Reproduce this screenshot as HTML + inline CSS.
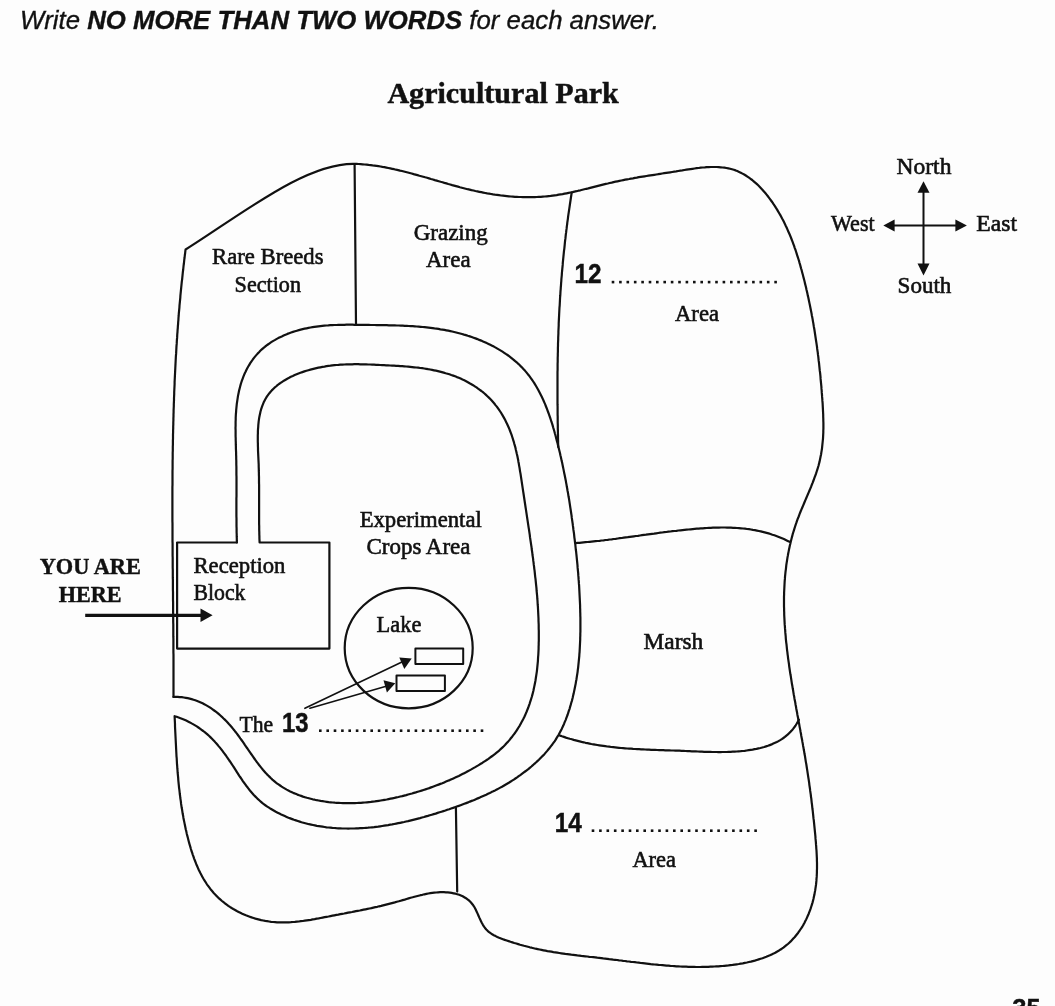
<!DOCTYPE html>
<html><head><meta charset="utf-8"><style>
html,body{margin:0;padding:0;background:#fdfdfd;}
body{width:1055px;height:1006px;overflow:hidden;position:relative;}
svg{position:absolute;left:0;top:0;will-change:transform;}
.s{font-family:"Liberation Serif",serif;fill:#111;stroke:#111;stroke-width:0.6px;}
.sb{font-family:"Liberation Serif",serif;font-weight:bold;fill:#111;stroke:#111;stroke-width:0.45px;}
.nb{font-family:"Liberation Sans",sans-serif;font-weight:bold;fill:#111;stroke:#111;stroke-width:0.5px;}
</style></head><body>
<svg width="1055" height="1006" viewBox="0 0 1055 1006">
<g fill="none" stroke="#111" stroke-width="2.2" stroke-linejoin="round" stroke-linecap="round">
<path d="M173.5,696.9L173.5,694.9L173.5,692.9L173.5,690.9L173.5,688.8L173.5,686.8L173.5,684.8L173.5,682.8L173.5,680.8L173.5,678.8L173.5,676.7L173.5,674.7L173.5,672.7L173.5,670.7L173.5,668.7L173.5,666.7L173.5,664.6L173.5,662.6L173.5,660.6L173.5,658.6L173.5,656.6L173.5,654.6L173.4,652.5L173.4,650.5L173.4,648.5L173.4,646.5L173.4,644.5L173.4,642.5L173.4,640.4L173.4,638.4L173.3,636.4L173.3,634.4L173.3,632.4L173.3,630.4L173.3,628.3L173.3,626.3L173.3,624.3L173.2,622.3L173.2,620.3L173.2,618.2L173.2,616.2L173.2,614.2L173.1,612.2L173.1,610.2L173.1,608.2L173.1,606.1L173.1,604.1L173.1,602.1L173.0,600.1L173.0,598.1L173.0,596.0L173.0,594.0L173.0,592.0L172.9,590.0L172.9,588.0L172.9,585.9L172.9,583.9L172.9,581.9L172.9,579.9L172.8,577.9L172.8,575.9L172.8,573.8L172.8,571.8L172.8,569.8L172.7,567.8L172.7,565.8L172.7,563.7L172.7,561.7L172.7,559.7L172.7,557.7L172.6,555.7L172.6,553.6L172.6,551.6L172.6,549.6L172.6,547.6L172.6,545.6L172.6,543.5L172.5,541.5L172.5,539.5L172.5,537.5L172.5,535.5L172.5,533.5L172.5,531.4L172.5,529.4L172.5,527.4L172.5,525.4L172.5,523.4L172.4,521.3L172.4,519.3L172.4,517.3L172.4,515.3L172.4,513.3L172.4,511.2L172.4,509.2L172.4,507.2L172.4,505.2L172.4,503.2L172.4,501.1L172.4,499.1L172.4,497.1L172.4,495.1L172.4,493.1L172.4,491.1L172.4,489.0L172.4,487.0L172.5,485.0L172.5,483.0L172.5,481.0L172.5,478.9L172.5,476.9L172.5,474.9L172.5,472.9L172.5,470.9L172.6,468.9L172.6,466.8L172.6,464.8L172.6,462.8L172.6,460.8L172.7,458.8L172.7,456.7L172.7,454.7L172.7,452.7L172.8,450.7L172.8,448.7L172.8,446.7L172.9,444.6L172.9,442.6L172.9,440.6L173.0,438.6L173.0,436.6L173.0,434.6L173.1,432.5L173.1,430.5L173.2,428.5L173.2,426.5L173.3,424.5L173.3,422.5L173.4,420.4L173.4,418.4L173.5,416.4L173.5,414.4L173.6,412.4L173.6,410.4L173.7,408.3L173.8,406.3L173.8,404.3L173.9,402.3L174.0,400.3L174.0,398.3L174.1,396.2L174.2,394.2L174.2,392.2L174.3,390.2L174.4,388.2L174.5,386.2L174.6,384.2L174.6,382.1L174.7,380.1L174.8,378.1L174.9,376.1L175.0,374.1L175.1,372.1L175.2,370.1L175.3,368.0L175.4,366.0L175.5,364.0L175.6,362.0L175.7,360.0L175.8,358.0L175.9,356.0L176.1,353.9L176.2,351.9L176.3,349.9L176.4,347.9L176.5,345.9L176.7,343.9L176.8,341.9L176.9,339.9L177.1,337.9L177.2,335.8L177.3,333.8L177.5,331.8L177.6,329.8L177.8,327.8L177.9,325.8L178.1,323.8L178.2,321.8L178.4,319.8L178.5,317.7L178.7,315.7L178.8,313.7L179.0,311.7L179.2,309.7L179.4,307.7L179.5,305.7L179.7,303.7L179.9,301.7L180.1,299.7L180.3,297.6L180.4,295.6L180.6,293.6L180.8,291.6L181.0,289.6L181.2,287.6L181.4,285.6L181.6,283.6L181.8,281.6L182.1,279.6L182.3,277.6L182.5,275.6L182.7,273.6L182.9,271.6L183.2,269.5L183.4,267.5L183.6,265.5L183.9,263.5L184.1,261.5L184.3,259.5L184.6,257.5L184.8,255.5L185.1,253.5L185.3,251.5L185.6,249.5C242.9,213.4 305.8,162.7 354.6,163.8L356.6,163.9L358.6,164.0L360.6,164.1L362.6,164.3L364.6,164.5L366.6,164.6L368.6,164.9L370.6,165.1L372.6,165.4L374.6,165.6L376.5,165.9L378.5,166.2L380.5,166.5L382.4,166.9L384.4,167.2L386.4,167.6L388.3,168.0L390.3,168.4L392.2,168.8L394.2,169.2L396.1,169.7L398.1,170.1L400.0,170.6L402.0,171.0L403.9,171.5L405.8,172.0L407.8,172.5L409.7,173.0L411.7,173.5L413.6,174.1L415.5,174.6L417.5,175.1L419.4,175.7L421.3,176.2L423.2,176.7L425.2,177.3L427.1,177.8L429.0,178.4L431.0,179.0L432.9,179.5L434.8,180.1L436.7,180.6L438.7,181.2L440.6,181.8L442.5,182.3L444.4,182.9L446.4,183.4L448.3,184.0L450.2,184.5L452.2,185.1L454.1,185.6L456.0,186.1L458.0,186.6L459.9,187.2L461.8,187.7L463.8,188.2L465.7,188.7L467.6,189.2L469.6,189.6L471.5,190.1L473.5,190.5L475.4,191.0L477.4,191.4L479.3,191.8L481.3,192.2L483.2,192.6L485.2,193.0L487.2,193.4L489.1,193.7L491.1,194.0L493.1,194.4L495.0,194.7L497.0,194.9L499.0,195.2L501.0,195.5L503.0,195.7L504.9,195.9L506.9,196.1L508.9,196.3L510.9,196.5L512.9,196.6L514.9,196.8L516.9,196.9L518.9,197.0L520.8,197.0L522.8,197.1L524.8,197.1L526.8,197.2L528.8,197.2L530.8,197.2L532.8,197.1L534.8,197.1L536.8,197.0L538.8,196.9L540.8,196.8L542.8,196.6L544.8,196.5L546.8,196.3L548.7,196.1L550.7,195.9L552.7,195.6L554.7,195.3L556.7,195.1L558.7,194.7L560.7,194.4L562.6,194.1L564.6,193.7L566.6,193.3L568.6,192.9L570.5,192.5L572.5,192.1L574.5,191.6L576.5,191.2L578.4,190.7L580.4,190.3L582.4,189.8L584.3,189.3L586.3,188.8L588.3,188.4L590.2,187.9L592.2,187.4L594.1,186.9L596.1,186.4L598.0,185.9L600.0,185.4L601.9,184.9L603.9,184.4L605.8,183.9L607.8,183.5L609.7,183.0L611.7,182.6L613.6,182.1L615.5,181.7L617.5,181.3L619.4,180.9L621.4,180.5L623.3,180.1L625.2,179.7L627.2,179.3L629.1,179.0L631.0,178.6L633.0,178.3L634.9,177.9L636.8,177.6L638.8,177.2L640.7,176.9L642.6,176.6L644.6,176.3L646.5,176.0L648.5,175.7L650.4,175.4L652.4,175.1L654.3,174.8L656.3,174.5L658.3,174.2L660.3,173.8L662.2,173.5L664.2,173.2L666.2,172.9L668.2,172.6L670.2,172.3L672.2,172.0L674.2,171.7L676.2,171.4L678.2,171.0L680.3,170.7L682.3,170.4L684.4,170.0L686.4,169.7L688.5,169.4L690.5,169.1L692.6,168.8L694.6,168.5L696.6,168.2L698.7,168.0L700.7,167.7L702.8,167.5L704.8,167.4L706.8,167.2L708.8,167.1L710.8,167.0L712.8,167.0L714.8,167.0L716.8,167.0L718.7,167.1L720.7,167.3L722.6,167.5L724.5,167.7L726.4,168.0L728.3,168.4L730.1,168.8L732.0,169.3L733.8,169.8L735.6,170.4L737.3,171.1L739.1,171.9L740.8,172.7L742.5,173.6L744.2,174.5L745.8,175.5L747.4,176.6L749.0,177.7L750.6,178.8L752.2,180.0L753.7,181.3L755.2,182.6L756.7,183.9L758.2,185.3L759.6,186.7L761.0,188.2L762.4,189.7L763.7,191.2L765.1,192.8L766.4,194.4L767.7,196.0L768.9,197.6L770.2,199.3L771.4,201.0L772.6,202.7L773.7,204.4L774.9,206.1L776.0,207.9L777.1,209.6L778.1,211.4L779.2,213.2L780.2,214.9L781.2,216.7L782.1,218.5L783.1,220.3L784.0,222.1L784.9,223.9L785.7,225.7L786.6,227.5L787.4,229.4L788.2,231.2L789.0,233.0L789.8,234.8L790.6,236.7L791.3,238.5L792.0,240.4L792.7,242.2L793.4,244.1L794.1,245.9L794.7,247.8L795.4,249.6L796.0,251.5L796.6,253.4L797.2,255.3L797.8,257.2L798.4,259.0L799.0,260.9L799.5,262.8L800.1,264.7L800.6,266.6L801.1,268.5L801.7,270.4L802.2,272.4L802.7,274.3L803.2,276.2L803.7,278.1L804.2,280.0L804.7,282.0L805.1,283.9L805.6,285.8L806.1,287.8L806.5,289.7L807.0,291.7L807.4,293.6L807.8,295.6L808.3,297.5L808.7,299.5L809.1,301.4L809.5,303.4L809.9,305.3L810.3,307.3L810.7,309.3L811.1,311.2L811.5,313.2L811.8,315.2L812.2,317.1L812.6,319.1L812.9,321.1L813.3,323.1L813.6,325.1L813.9,327.0L814.3,329.0L814.6,331.0L814.9,333.0L815.2,335.0L815.5,337.0L815.8,339.0L816.1,341.0L816.4,342.9L816.7,344.9L817.0,346.9L817.2,348.9L817.5,350.9L817.8,352.9L818.0,354.9L818.3,356.9L818.5,358.9L818.7,360.9L819.0,362.9L819.2,364.9L819.4,366.9L819.6,368.9L819.8,370.9L820.1,372.9L820.3,374.9L820.5,376.9L820.6,378.9L820.8,380.9L821.0,382.9L821.2,384.9L821.4,386.9L821.5,388.9L821.7,390.9L821.8,392.9L822.0,394.9L822.1,396.9L822.3,398.9L822.4,400.9L822.6,402.9L822.7,404.9L822.8,406.9L822.9,408.9L823.0,410.9L823.1,412.9L823.2,414.8L823.2,416.8L823.3,418.8L823.3,420.8L823.4,422.8L823.4,424.8L823.4,426.7L823.4,428.7L823.3,430.7L823.3,432.7L823.2,434.6L823.1,436.6L823.0,438.6L822.8,440.5L822.6,442.5L822.4,444.4L822.2,446.4L822.0,448.3L821.7,450.3L821.4,452.2L821.1,454.2L820.7,456.1L820.3,458.0L819.9,460.0L819.5,461.9L819.0,463.8L818.5,465.7L817.9,467.7L817.3,469.6L816.7,471.5L816.1,473.4L815.4,475.3L814.7,477.2L814.0,479.1L813.3,481.0L812.6,482.9L811.8,484.8L811.1,486.7L810.3,488.6L809.5,490.5L808.7,492.4L807.9,494.2L807.1,496.1L806.3,498.0L805.5,499.9L804.7,501.8L803.9,503.7L803.1,505.6L802.3,507.5L801.5,509.4L800.7,511.3L799.9,513.2L799.2,515.1L798.5,517.0L797.7,518.9L797.0,520.8L796.4,522.7L795.7,524.6L795.1,526.5L794.5,528.4L793.9,530.3L793.3,532.3L792.7,534.2L792.2,536.1L791.7,538.0L791.2,540.0L790.7,541.9L790.3,543.8L789.8,545.7L789.4,547.7L789.0,549.6L788.6,551.6L788.2,553.5L787.9,555.4L787.5,557.4L787.2,559.3L786.9,561.3L786.6,563.2L786.3,565.2L786.1,567.1L785.9,569.1L785.6,571.1L785.4,573.0L785.2,575.0L785.0,576.9L784.9,578.9L784.7,580.9L784.6,582.8L784.5,584.8L784.4,586.8L784.3,588.7L784.2,590.7L784.1,592.7L784.1,594.7L784.0,596.6L784.0,598.6L784.0,600.6L784.0,602.6L784.0,604.6L784.0,606.5L784.1,608.5L784.1,610.5L784.2,612.5L784.2,614.5L784.3,616.5L784.4,618.4L784.5,620.4L784.6,622.4L784.7,624.4L784.9,626.4L785.0,628.4L785.2,630.4L785.3,632.4L785.5,634.4L785.7,636.4L785.8,638.3L786.0,640.3L786.2,642.3L786.5,644.3L786.7,646.3L786.9,648.3L787.1,650.3L787.4,652.3L787.6,654.3L787.9,656.3L788.1,658.3L788.4,660.3L788.7,662.3L789.0,664.3L789.2,666.3L789.5,668.3L789.8,670.3L790.1,672.3L790.4,674.3L790.8,676.3L791.1,678.3L791.4,680.3L791.7,682.3L792.0,684.3L792.4,686.3L792.7,688.3L793.1,690.3L793.4,692.3L793.7,694.2L794.1,696.2L794.4,698.2L794.8,700.2L795.2,702.2L795.5,704.2L795.9,706.2L796.2,708.2L796.6,710.2L797.0,712.2L797.3,714.2L797.7,716.2L798.1,718.1L798.4,720.1L798.8,722.1L799.2,724.1L799.5,726.1L799.9,728.1L800.3,730.1L800.6,732.0L801.0,734.0L801.3,736.0L801.7,738.0L802.1,739.9L802.4,741.9L802.8,743.9L803.1,745.9L803.5,747.8L803.8,749.8L804.2,751.8L804.5,753.8L804.9,755.7L805.2,757.7L805.5,759.7L805.8,761.6L806.2,763.6L806.5,765.5L806.8,767.5L807.1,769.4L807.4,771.4L807.7,773.4L808.0,775.3L808.3,777.3L808.6,779.2L808.9,781.2L809.2,783.1L809.4,785.1L809.7,787.0L810.0,789.0L810.2,790.9L810.5,792.9L810.8,794.8L811.0,796.8L811.3,798.7L811.5,800.7L811.7,802.6L812.0,804.6L812.2,806.6L812.4,808.5L812.7,810.5L812.9,812.5L813.1,814.4L813.3,816.4L813.5,818.4L813.8,820.4L814.0,822.4L814.2,824.3L814.4,826.3L814.6,828.3L814.8,830.3L815.0,832.3L815.2,834.3L815.4,836.3L815.5,838.4L815.7,840.4L815.9,842.4L816.0,844.4L816.2,846.4L816.3,848.5L816.5,850.5L816.6,852.5L816.7,854.6L816.8,856.6L816.9,858.6L816.9,860.7L817.0,862.7L817.0,864.7L817.0,866.7L817.0,868.8L816.9,870.8L816.9,872.8L816.8,874.8L816.7,876.9L816.5,878.9L816.4,880.9L816.2,882.9L816.0,884.9L815.7,886.9L815.4,888.9L815.1,890.9L814.7,892.9L814.4,894.8L813.9,896.8L813.5,898.8L813.0,900.7L812.5,902.6L811.9,904.6L811.3,906.5L810.7,908.4L810.0,910.3L809.3,912.1L808.6,914.0L807.8,915.8L807.0,917.6L806.2,919.4L805.3,921.1L804.4,922.9L803.5,924.6L802.5,926.3L801.5,927.9L800.4,929.5L799.3,931.1L798.2,932.7L797.0,934.2L795.8,935.7L794.6,937.2L793.3,938.6L792.0,940.0L790.7,941.4L789.3,942.7L787.9,944.0L786.4,945.2L784.9,946.4L783.4,947.6L781.8,948.7L780.2,949.7L778.6,950.8L776.9,951.7L775.2,952.7L773.5,953.6L771.7,954.4L769.9,955.3L768.1,956.0L766.3,956.8L764.4,957.5L762.5,958.2L760.6,958.8L758.7,959.4L756.8,960.0L754.8,960.6L752.8,961.1L750.9,961.6L748.9,962.0L746.9,962.5L744.8,962.9L742.8,963.3L740.8,963.6L738.7,964.0L736.7,964.3L734.7,964.6L732.6,964.9L730.6,965.1L728.5,965.4L726.5,965.6L724.4,965.8L722.4,966.0L720.4,966.1L718.4,966.3L716.3,966.4L714.3,966.5L712.3,966.6L710.3,966.7L708.3,966.8L706.3,966.9L704.2,966.9L702.2,966.9L700.2,967.0L698.2,967.0L696.2,967.0L694.2,966.9L692.2,966.9L690.3,966.9L688.3,966.8L686.3,966.7L684.3,966.7L682.3,966.6L680.3,966.5L678.3,966.4L676.3,966.3L674.4,966.1L672.4,966.0L670.4,965.9L668.4,965.7L666.5,965.6L664.5,965.4L662.5,965.2L660.5,965.0L658.6,964.9L656.6,964.7L654.6,964.5L652.6,964.3L650.7,964.1L648.7,963.8L646.7,963.6L644.8,963.4L642.8,963.2L640.8,963.0L638.8,962.7L636.9,962.5L634.9,962.2L632.9,962.0L631.0,961.8L629.0,961.5L627.0,961.3L625.0,961.0L623.1,960.8L621.1,960.5L619.1,960.3L617.1,960.0L615.1,959.8L613.2,959.6L611.2,959.3L609.2,959.1L607.2,958.8L605.2,958.6L603.2,958.4L601.2,958.1L599.2,957.9L597.2,957.7L595.3,957.4L593.3,957.2L591.3,957.0L589.3,956.8L587.3,956.5L585.3,956.3L583.3,956.1L581.3,955.9L579.3,955.6L577.3,955.4L575.3,955.1L573.3,954.9L571.3,954.7L569.3,954.4L567.3,954.1L565.3,953.9L563.3,953.6L561.3,953.3L559.3,953.0L557.3,952.7L555.3,952.4L553.4,952.1L551.4,951.7L549.4,951.4L547.4,951.1L545.5,950.7L543.5,950.3L541.5,949.9L539.6,949.5L537.6,949.1L535.6,948.7L533.7,948.2L531.7,947.7L529.8,947.3L527.9,946.8L525.9,946.3L524.0,945.8L522.0,945.2L520.1,944.7L518.2,944.1L516.3,943.5L514.3,943.0L512.4,942.4L510.5,941.8L508.6,941.1L506.7,940.5L504.8,939.9L502.9,939.2L501.0,938.5L499.1,937.8L497.3,937.0L495.6,936.1L493.8,935.2L492.2,934.3L490.6,933.2L489.1,932.1L487.6,930.8L486.3,929.5L485.0,928.0L483.9,926.4L482.9,924.8L481.9,923.0L481.0,921.2L480.1,919.3L479.2,917.4L478.4,915.5L477.6,913.6L476.7,911.7L475.8,909.8L474.9,908.0L473.9,906.3L472.8,904.7L471.6,903.2L470.3,901.7L468.9,900.4L467.5,899.3L466.0,898.2L464.3,897.2L462.7,896.3L460.9,895.5L459.2,894.8L457.3,894.2L455.5,893.7L453.6,893.3L451.7,892.9L449.8,892.6L447.8,892.4L445.9,892.3L444.0,892.2L442.0,892.2L440.1,892.2L438.1,892.3L436.2,892.5L434.2,892.7L432.3,892.9L430.3,893.2L428.3,893.5L426.4,893.9L424.4,894.3L422.4,894.8L420.5,895.2L418.5,895.7L416.5,896.2L414.5,896.7L412.6,897.3L410.6,897.8L408.6,898.4L406.6,899.0L404.7,899.6L402.7,900.1L400.7,900.7L398.8,901.3L396.8,901.8L394.8,902.4L392.9,902.9L390.9,903.4L389.0,903.9L387.0,904.4L385.1,904.9L383.1,905.4L381.2,905.9L379.2,906.3L377.3,906.8L375.3,907.2L373.4,907.6L371.4,908.1L369.5,908.5L367.5,908.9L365.6,909.3L363.6,909.7L361.7,910.1L359.8,910.5L357.8,910.8L355.9,911.2L353.9,911.6L352.0,912.0L350.0,912.3L348.1,912.7L346.1,913.1L344.2,913.5L342.2,913.8L340.3,914.2L338.3,914.6L336.4,914.9L334.4,915.3L332.5,915.7L330.5,916.1L328.5,916.5L326.6,916.8L324.6,917.2L322.6,917.6L320.6,918.0L318.7,918.4L316.7,918.7L314.7,919.1L312.7,919.4L310.8,919.8L308.8,920.1L306.8,920.4L304.8,920.7L302.8,921.0L300.8,921.2L298.9,921.5L296.9,921.7L294.9,921.9L292.9,922.0L290.9,922.2L288.9,922.3L287.0,922.4L285.0,922.4L283.0,922.4L281.0,922.4L279.0,922.4L277.0,922.3L275.1,922.1L273.1,922.0L271.1,921.8L269.1,921.5L267.1,921.2L265.2,920.9L263.2,920.5L261.2,920.1L259.3,919.6L257.3,919.1L255.4,918.6L253.5,918.0L251.6,917.4L249.7,916.7L247.8,916.0L245.9,915.3L244.0,914.5L242.2,913.7L240.4,912.8L238.6,911.9L236.8,911.0L235.1,910.0L233.3,909.0L231.6,908.0L229.9,906.9L228.3,905.8L226.7,904.6L225.1,903.5L223.5,902.2L222.0,901.0L220.5,899.7L219.0,898.4L217.6,897.0L216.2,895.6L214.9,894.2L213.5,892.8L212.3,891.3L211.0,889.8L209.8,888.2L208.7,886.7L207.5,885.1L206.4,883.5L205.4,881.8L204.3,880.2L203.3,878.5L202.3,876.7L201.4,875.0L200.5,873.3L199.6,871.5L198.7,869.7L197.9,867.9L197.1,866.0L196.3,864.2L195.6,862.3L194.9,860.5L194.1,858.6L193.5,856.7L192.8,854.8L192.2,852.9L191.5,851.0L190.9,849.0L190.4,847.1L189.8,845.1L189.2,843.2L188.7,841.2L188.2,839.3L187.7,837.3L187.2,835.4L186.7,833.4L186.3,831.4L185.8,829.5L185.4,827.5L185.0,825.6L184.6,823.6L184.2,821.6L183.8,819.7L183.4,817.7L183.1,815.7L182.7,813.8L182.4,811.8L182.1,809.8L181.7,807.8L181.4,805.9L181.1,803.9L180.9,801.9L180.6,799.9L180.3,798.0L180.1,796.0L179.8,794.0L179.6,792.0L179.4,790.1L179.1,788.1L178.9,786.1L178.7,784.1L178.5,782.1L178.3,780.1L178.2,778.2L178.0,776.2L177.8,774.2L177.6,772.2L177.5,770.2L177.3,768.2L177.2,766.2L177.0,764.2L176.9,762.2L176.8,760.2L176.7,758.2L176.5,756.3L176.4,754.3L176.3,752.3L176.2,750.3L176.1,748.3L176.0,746.3L175.9,744.3L175.8,742.3L175.7,740.3L175.6,738.3L175.5,736.3L175.4,734.3L175.3,732.3L175.2,730.2L175.1,728.2L175.0,726.2L175.0,724.2L174.9,722.2L174.8,720.2L174.7,718.2L174.6,716.2L176.6,716.8L178.6,717.5L180.5,718.2L182.5,719.0L184.4,719.8L186.2,720.6L188.0,721.5L189.9,722.4L191.6,723.4L193.4,724.4L195.1,725.4L196.8,726.4L198.4,727.5L200.0,728.6L201.6,729.8L203.2,731.0L204.7,732.2L206.2,733.4L207.7,734.7L209.2,736.0L210.6,737.4L212.0,738.8L213.4,740.2L214.7,741.6L216.0,743.1L217.3,744.5L218.6,746.1L219.9,747.6L221.1,749.1L222.3,750.7L223.5,752.3L224.7,753.9L225.9,755.5L227.0,757.2L228.2,758.8L229.3,760.5L230.5,762.2L231.6,763.8L232.7,765.5L233.8,767.2L234.9,768.9L236.0,770.6L237.1,772.4L238.2,774.1L239.3,775.8L240.5,777.5L241.6,779.1L242.7,780.8L243.9,782.5L245.1,784.1L246.2,785.7L247.5,787.3L248.7,788.9L249.9,790.5L251.2,792.0L252.5,793.5L253.8,795.0L255.2,796.4L256.6,797.8L258.0,799.2L259.5,800.5L261.0,801.8L262.5,803.1L264.1,804.3L265.7,805.5L267.3,806.6L269.0,807.7L270.7,808.8L272.4,809.8L274.1,810.8L275.8,811.8L277.6,812.7L279.4,813.6L281.2,814.5L283.0,815.3L284.8,816.1L286.6,816.9L288.5,817.7L290.3,818.4L292.2,819.1L294.0,819.8L295.9,820.4L297.8,821.0L299.7,821.6L301.5,822.2L303.4,822.7L305.3,823.2L307.2,823.7L309.1,824.2L311.1,824.6L313.0,825.0L314.9,825.4L316.8,825.8L318.8,826.1L320.7,826.4L322.6,826.7L324.6,827.0L326.5,827.3L328.5,827.5L330.4,827.7L332.4,827.9L334.4,828.0L336.3,828.2L338.3,828.3L340.3,828.4L342.3,828.5L344.2,828.5L346.2,828.5L348.2,828.6L350.2,828.5L352.2,828.5L354.2,828.5L356.2,828.4L358.1,828.3L360.1,828.2L362.1,828.1L364.1,828.0L366.1,827.8L368.1,827.7L370.1,827.5L372.1,827.3L374.1,827.1L376.1,826.8L378.2,826.6L380.2,826.3L382.2,826.0L384.2,825.7L386.2,825.4L388.2,825.1L390.2,824.7L392.2,824.4L394.2,824.0L396.2,823.6L398.2,823.2L400.2,822.8L402.2,822.4L404.1,822.0L406.1,821.5L408.1,821.1L410.1,820.6L412.1,820.1L414.1,819.6L416.1,819.1L418.0,818.6L420.0,818.1L422.0,817.5L424.0,817.0L425.9,816.4L427.9,815.9L429.8,815.3L431.8,814.7L433.7,814.1L435.7,813.6L437.6,812.9L439.6,812.3L441.5,811.7L443.4,811.1L445.4,810.5L447.3,809.8L449.2,809.2L451.1,808.5L453.0,807.9L454.9,807.2L456.8,806.5L458.7,805.9L460.6,805.2L462.4,804.5L464.3,803.8L466.2,803.1L468.0,802.4L469.9,801.6L471.7,800.9L473.6,800.2L475.4,799.4L477.2,798.6L479.0,797.9L480.8,797.1L482.6,796.3L484.4,795.5L486.2,794.7L488.0,793.8L489.8,793.0L491.5,792.1L493.3,791.3L495.1,790.4L496.8,789.5L498.5,788.6L500.3,787.6L502.0,786.7L503.7,785.7L505.4,784.7L507.1,783.7L508.8,782.7L510.4,781.7L512.1,780.6L513.8,779.6L515.4,778.5L517.1,777.4L518.7,776.2L520.3,775.1L521.9,773.9L523.5,772.7L525.1,771.5L526.7,770.3L528.3,769.1L529.8,767.8L531.4,766.5L532.9,765.2L534.4,763.8L535.9,762.5L537.4,761.1L538.9,759.7L540.3,758.3L541.8,756.8L543.2,755.4L544.6,753.9L545.9,752.4L547.2,750.9L548.5,749.3L549.8,747.7L551.0,746.1L552.3,744.5L553.4,742.9L554.6,741.3L555.7,739.6L556.7,737.9L557.8,736.2L558.8,734.5L559.7,732.7L560.7,730.9L561.6,729.2L562.4,727.4L563.3,725.6L564.1,723.7L564.8,721.9L565.6,720.1L566.3,718.2L567.0,716.3L567.7,714.5L568.3,712.6L568.9,710.7L569.6,708.8L570.1,706.9L570.7,704.9L571.2,703.0L571.8,701.1L572.3,699.2L572.8,697.2L573.2,695.3L573.7,693.4L574.1,691.4L574.5,689.5L574.9,687.5L575.3,685.6L575.7,683.6L576.0,681.6L576.4,679.7L576.7,677.7L577.0,675.7L577.3,673.8L577.6,671.8L577.8,669.8L578.1,667.8L578.3,665.8L578.5,663.8L578.7,661.8L578.9,659.8L579.1,657.8L579.3,655.8L579.4,653.8L579.6,651.8L579.7,649.8L579.8,647.8L579.9,645.8L580.0,643.8L580.1,641.8L580.2,639.8L580.2,637.8L580.3,635.8L580.3,633.8L580.4,631.7L580.4,629.7L580.4,627.7L580.4,625.7L580.4,623.7L580.4,621.7L580.4,619.7L580.4,617.6L580.3,615.6L580.3,613.6L580.2,611.6L580.2,609.6L580.1,607.6L580.1,605.6L580.0,603.5L579.9,601.5L579.8,599.5L579.7,597.5L579.6,595.5L579.5,593.5L579.4,591.5L579.3,589.5L579.2,587.5L579.1,585.4L578.9,583.4L578.8,581.4L578.6,579.4L578.5,577.4L578.3,575.4L578.2,573.4L578.0,571.4L577.8,569.4L577.6,567.4L577.5,565.4L577.3,563.4L577.1,561.4L576.9,559.4L576.7,557.4L576.5,555.4L576.3,553.5L576.1,551.5L575.8,549.5L575.6,547.5L575.4,545.5L575.2,543.5L574.9,541.5L574.7,539.6L574.4,537.6L574.2,535.6L574.0,533.6L573.7,531.7L573.4,529.7L573.2,527.7L572.9,525.7L572.7,523.8L572.4,521.8L572.1,519.8L571.8,517.9L571.6,515.9L571.3,514.0L571.0,512.0L570.7,510.0L570.4,508.1L570.1,506.1L569.8,504.2L569.5,502.2L569.2,500.2L568.9,498.3L568.5,496.3L568.2,494.4L567.9,492.4L567.5,490.5L567.2,488.5L566.8,486.6L566.5,484.6L566.1,482.6L565.8,480.7L565.4,478.7L565.0,476.8L564.6,474.8L564.2,472.9L563.8,470.9L563.4,468.9L563.0,467.0L562.6,465.0L562.2,463.1L561.7,461.1L561.3,459.1L560.9,457.2L560.4,455.2L560.0,453.2L559.5,451.3L559.0,449.3L558.5,447.3L558.0,445.3L557.6,443.4L557.0,441.4L556.5,439.4L556.0,437.4L555.5,435.4L554.9,433.5L554.4,431.5L553.8,429.5L553.2,427.5L552.7,425.6L552.1,423.6L551.4,421.7L550.8,419.7L550.2,417.8L549.5,415.8L548.8,413.9L548.1,412.0L547.4,410.1L546.7,408.2L545.9,406.3L545.2,404.4L544.4,402.6L543.6,400.7L542.8,398.9L541.9,397.1L541.0,395.3L540.1,393.5L539.2,391.7L538.3,390.0L537.3,388.2L536.3,386.5L535.3,384.8L534.3,383.2L533.2,381.5L532.1,379.9L531.0,378.3L529.8,376.7L528.7,375.2L527.4,373.6L526.2,372.1L524.9,370.6L523.6,369.2L522.3,367.8L520.9,366.4L519.6,365.0L518.1,363.7L516.7,362.3L515.2,361.1L513.7,359.8L512.2,358.6L510.6,357.3L509.1,356.2L507.5,355.0L505.8,353.9L504.2,352.8L502.5,351.7L500.8,350.6L499.1,349.6L497.4,348.6L495.7,347.6L493.9,346.6L492.1,345.7L490.3,344.8L488.5,343.9L486.7,343.1L484.9,342.2L483.0,341.4L481.2,340.6L479.3,339.9L477.4,339.1L475.5,338.4L473.6,337.7L471.7,337.0L469.8,336.4L467.8,335.8L465.9,335.1L464.0,334.6L462.0,334.0L460.1,333.5L458.1,333.0L456.2,332.5L454.2,332.0L452.2,331.5L450.3,331.1L448.3,330.7L446.3,330.3L444.4,329.9L442.4,329.6L440.4,329.3L438.5,328.9L436.5,328.6L434.5,328.4L432.6,328.1L430.6,327.8L428.6,327.6L426.6,327.4L424.6,327.2L422.7,327.0L420.7,326.8L418.7,326.6L416.7,326.5L414.7,326.3L412.7,326.2L410.7,326.1L408.8,326.0L406.8,325.9L404.8,325.8L402.8,325.7L400.8,325.6L398.8,325.5L396.8,325.5L394.8,325.4L392.8,325.4L390.8,325.3L388.8,325.3L386.8,325.2L384.8,325.2L382.7,325.2L380.7,325.1L378.7,325.1L376.7,325.1L374.7,325.0L372.7,325.0L370.7,325.0L368.7,324.9L366.6,324.9L364.6,324.9L362.6,324.9L360.6,324.8L358.6,324.8L356.5,324.8L354.5,324.8L352.5,324.7L350.5,324.7L348.5,324.7L346.4,324.7L344.4,324.8L342.4,324.8L340.4,324.8L338.4,324.9L336.4,325.0L334.3,325.0L332.3,325.1L330.3,325.2L328.3,325.4L326.3,325.5L324.3,325.7L322.3,325.9L320.4,326.1L318.4,326.3L316.4,326.6L314.4,326.9L312.5,327.2L310.5,327.5L308.5,327.9L306.6,328.3L304.6,328.7L302.7,329.1L300.7,329.6L298.8,330.1L296.9,330.7L295.0,331.3L293.0,331.9L291.1,332.5L289.2,333.2L287.4,333.9L285.5,334.7L283.6,335.5L281.8,336.4L280.0,337.2L278.2,338.1L276.4,339.1L274.7,340.1L272.9,341.1L271.2,342.2L269.6,343.3L267.9,344.5L266.3,345.6L264.8,346.9L263.3,348.1L261.8,349.4L260.3,350.8L259.0,352.2L257.6,353.6L256.3,355.1L255.0,356.6L253.8,358.1L252.7,359.7L251.5,361.3L250.4,362.9L249.4,364.6L248.4,366.3L247.4,368.0L246.5,369.7L245.7,371.5L244.8,373.3L244.0,375.1L243.3,376.9L242.6,378.8L241.9,380.6L241.3,382.5L240.7,384.4L240.2,386.3L239.7,388.2L239.2,390.1L238.8,392.0L238.4,393.9L238.0,395.9L237.7,397.9L237.4,399.8L237.1,401.8L236.8,403.8L236.6,405.8L236.4,407.8L236.2,409.8L236.1,411.8L235.9,413.8L235.8,415.8L235.7,417.8L235.7,419.9L235.6,421.9L235.6,423.9L235.6,426.0L235.5,428.0L235.6,430.1L235.6,432.1L235.6,434.2L235.6,436.2L235.7,438.3L235.7,440.3L235.8,442.4L235.8,444.4L235.9,446.5L235.9,448.5L236.0,450.5L236.1,452.6L236.1,454.6L236.2,456.6L236.2,458.6L236.3,460.7L236.3,462.7L236.3,464.7L236.4,466.7L236.4,468.7L236.4,470.7L236.4,472.7L236.4,474.7L236.5,476.7L236.5,478.6L236.5,480.6L236.5,482.6L236.5,484.6L236.5,486.6L236.5,488.5L236.5,490.5L236.5,492.5L236.5,494.4L236.5,496.4L236.4,498.4L236.4,500.4L236.4,502.3L236.4,504.3L236.4,506.3L236.4,508.3L236.4,510.3L236.4,512.2L236.4,514.2L236.4,516.2L236.5,518.2L236.5,520.2L236.5,522.2L236.5,524.2L236.5,526.2L236.6,528.2L236.6,530.3L236.6,532.3L236.7,534.3L236.7,536.4L236.8,538.4L236.8,540.4L236.9,542.5"/>
<path d="M236.9,542.5L177.1,542.5L177.1,648.6L329.4,648.6L329.4,542.5L259.6,542.5L259.5,540.4L259.4,538.3L259.4,536.2L259.3,534.1L259.3,532.1L259.2,530.0L259.2,528.0L259.2,526.0L259.1,524.0L259.1,522.0L259.1,520.0L259.1,518.0L259.1,516.0L259.1,514.1L259.1,512.1L259.1,510.2L259.1,508.2L259.1,506.3L259.1,504.3L259.1,502.4L259.1,500.4L259.1,498.5L259.1,496.5L259.1,494.6L259.1,492.7L259.1,490.7L259.1,488.8L259.1,486.8L259.1,484.8L259.0,482.9L259.0,480.9L259.0,478.9L259.0,476.9L258.9,474.9L258.9,472.9L258.8,470.9L258.8,468.9L258.7,466.8L258.7,464.8L258.6,462.7L258.5,460.7L258.4,458.6L258.3,456.5L258.2,454.4L258.1,452.3L258.0,450.2L258.0,448.0L257.9,445.9L257.9,443.8L257.8,441.7L257.8,439.6L257.8,437.5L257.8,435.4L257.9,433.3L257.9,431.3L258.0,429.2L258.2,427.2L258.3,425.1L258.5,423.1L258.7,421.1L259.0,419.2L259.3,417.2L259.7,415.3L260.1,413.4L260.5,411.5L261.0,409.7L261.6,407.9L262.2,406.1L262.9,404.3L263.6,402.6L264.4,401.0L265.3,399.3L266.2,397.7L267.2,396.2L268.3,394.7L269.4,393.2L270.6,391.8L271.8,390.4L273.2,389.0L274.5,387.7L276.0,386.5L277.5,385.2L279.0,384.0L280.6,382.9L282.2,381.8L283.9,380.7L285.6,379.7L287.3,378.7L289.1,377.8L290.9,376.8L292.8,376.0L294.7,375.1L296.6,374.3L298.5,373.5L300.4,372.8L302.4,372.1L304.4,371.4L306.4,370.8L308.4,370.2L310.4,369.6L312.4,369.1L314.4,368.6L316.4,368.1L318.4,367.7L320.4,367.3L322.4,366.9L324.5,366.6L326.5,366.2L328.5,365.9L330.4,365.7L332.4,365.4L334.4,365.2L336.4,365.0L338.4,364.9L340.4,364.7L342.4,364.6L344.4,364.5L346.4,364.4L348.3,364.3L350.3,364.3L352.3,364.3L354.3,364.2L356.3,364.2L358.2,364.2L360.2,364.3L362.2,364.3L364.2,364.3L366.2,364.4L368.2,364.5L370.1,364.5L372.1,364.6L374.1,364.7L376.1,364.8L378.1,364.9L380.1,365.0L382.1,365.1L384.1,365.2L386.1,365.3L388.1,365.4L390.1,365.5L392.1,365.6L394.1,365.7L396.1,365.8L398.2,365.9L400.2,366.1L402.2,366.2L404.2,366.3L406.2,366.5L408.2,366.7L410.2,366.9L412.2,367.1L414.2,367.3L416.2,367.5L418.2,367.7L420.2,368.0L422.2,368.2L424.2,368.5L426.2,368.8L428.1,369.2L430.1,369.5L432.1,369.9L434.0,370.3L436.0,370.7L437.9,371.1L439.9,371.6L441.8,372.1L443.7,372.6L445.6,373.2L447.5,373.7L449.4,374.3L451.3,375.0L453.2,375.6L455.1,376.3L456.9,377.1L458.8,377.8L460.6,378.6L462.5,379.5L464.3,380.3L466.1,381.2L467.9,382.2L469.6,383.2L471.4,384.2L473.1,385.2L474.8,386.3L476.5,387.4L478.1,388.6L479.8,389.8L481.4,391.0L482.9,392.2L484.5,393.5L486.0,394.9L487.4,396.2L488.9,397.6L490.3,399.0L491.7,400.5L493.0,402.0L494.3,403.5L495.5,405.1L496.8,406.6L497.9,408.2L499.1,409.9L500.2,411.5L501.3,413.2L502.3,414.9L503.3,416.6L504.3,418.4L505.2,420.1L506.1,421.9L507.0,423.7L507.8,425.5L508.6,427.3L509.4,429.1L510.1,431.0L510.8,432.8L511.5,434.7L512.1,436.5L512.7,438.4L513.3,440.3L513.9,442.2L514.4,444.1L515.0,446.1L515.5,448.0L515.9,449.9L516.4,451.9L516.8,453.8L517.3,455.8L517.7,457.7L518.1,459.7L518.4,461.7L518.8,463.6L519.1,465.6L519.5,467.6L519.8,469.6L520.1,471.6L520.5,473.6L520.8,475.6L521.1,477.6L521.4,479.6L521.7,481.6L522.0,483.6L522.3,485.6L522.6,487.6L522.9,489.6L523.2,491.6L523.5,493.5L523.8,495.5L524.1,497.5L524.4,499.5L524.7,501.5L525.0,503.5L525.3,505.5L525.6,507.5L525.9,509.4L526.2,511.4L526.5,513.4L526.8,515.4L527.1,517.4L527.4,519.3L527.7,521.3L528.0,523.3L528.3,525.3L528.6,527.3L528.9,529.2L529.2,531.2L529.5,533.2L529.8,535.2L530.0,537.2L530.3,539.1L530.6,541.1L530.9,543.1L531.2,545.1L531.5,547.0L531.7,549.0L532.0,551.0L532.3,553.0L532.5,555.0L532.8,556.9L533.1,558.9L533.3,560.9L533.6,562.9L533.8,564.9L534.1,566.9L534.3,568.8L534.6,570.8L534.8,572.8L535.0,574.8L535.2,576.8L535.5,578.8L535.7,580.8L535.9,582.8L536.1,584.8L536.3,586.7L536.5,588.7L536.6,590.7L536.8,592.7L537.0,594.7L537.2,596.7L537.3,598.7L537.5,600.7L537.6,602.7L537.7,604.7L537.9,606.7L538.0,608.7L538.1,610.7L538.2,612.7L538.3,614.7L538.4,616.7L538.5,618.7L538.5,620.7L538.6,622.8L538.7,624.8L538.7,626.8L538.7,628.8L538.8,630.8L538.8,632.8L538.8,634.8L538.8,636.8L538.8,638.9L538.8,640.9L538.7,642.9L538.7,644.9L538.6,646.9L538.6,648.9L538.5,651.0L538.4,653.0L538.3,655.0L538.1,657.0L538.0,659.0L537.9,661.1L537.7,663.1L537.5,665.1L537.3,667.1L537.1,669.1L536.9,671.1L536.6,673.1L536.3,675.1L536.0,677.0L535.7,679.0L535.4,681.0L535.0,683.0L534.6,684.9L534.2,686.9L533.8,688.8L533.4,690.8L532.9,692.7L532.4,694.6L531.9,696.5L531.3,698.5L530.7,700.4L530.1,702.2L529.5,704.1L528.8,706.0L528.2,707.8L527.4,709.7L526.7,711.5L525.9,713.4L525.1,715.2L524.3,717.0L523.4,718.8L522.5,720.5L521.5,722.3L520.6,724.0L519.6,725.8L518.5,727.5L517.5,729.1L516.4,730.8L515.3,732.5L514.1,734.1L512.9,735.7L511.7,737.3L510.4,738.8L509.2,740.4L507.9,741.9L506.5,743.3L505.2,744.8L503.8,746.2L502.3,747.6L500.9,748.9L499.4,750.3L497.9,751.6L496.3,752.9L494.8,754.1L493.2,755.3L491.6,756.5L490.0,757.7L488.4,758.9L486.7,760.0L485.0,761.1L483.3,762.2L481.7,763.3L479.9,764.3L478.2,765.4L476.5,766.4L474.8,767.4L473.0,768.4L471.3,769.4L469.5,770.4L467.8,771.3L466.0,772.3L464.2,773.2L462.4,774.1L460.6,775.0L458.8,775.9L457.0,776.7L455.2,777.6L453.4,778.4L451.5,779.2L449.7,780.1L447.9,780.8L446.0,781.6L444.2,782.4L442.3,783.2L440.4,783.9L438.6,784.6L436.7,785.3L434.8,786.0L432.9,786.7L431.1,787.4L429.2,788.1L427.3,788.7L425.4,789.4L423.5,790.0L421.6,790.6L419.6,791.2L417.7,791.8L415.8,792.4L413.9,792.9L412.0,793.5L410.0,794.0L408.1,794.5L406.2,795.1L404.2,795.6L402.3,796.1L400.3,796.5L398.4,797.0L396.5,797.4L394.5,797.9L392.5,798.3L390.6,798.7L388.6,799.1L386.7,799.5L384.7,799.8L382.7,800.2L380.8,800.5L378.8,800.8L376.8,801.1L374.8,801.4L372.9,801.6L370.9,801.9L368.9,802.1L366.9,802.3L364.9,802.5L362.9,802.6L360.9,802.8L358.9,802.9L356.9,803.0L354.9,803.1L352.9,803.1L350.9,803.2L348.9,803.2L346.9,803.2L344.9,803.1L342.9,803.1L340.8,803.0L338.8,802.9L336.8,802.8L334.8,802.7L332.7,802.5L330.7,802.3L328.7,802.1L326.7,801.8L324.7,801.5L322.6,801.2L320.6,800.9L318.6,800.5L316.7,800.2L314.7,799.7L312.7,799.3L310.7,798.8L308.8,798.3L306.9,797.8L304.9,797.2L303.0,796.6L301.1,795.9L299.3,795.3L297.4,794.6L295.6,793.8L293.7,793.1L292.0,792.2L290.2,791.4L288.4,790.5L286.7,789.6L285.0,788.6L283.3,787.6L281.7,786.6L280.1,785.5L278.5,784.4L276.9,783.3L275.4,782.1L273.9,780.8L272.4,779.6L271.0,778.3L269.6,776.9L268.2,775.5L266.8,774.1L265.5,772.7L264.2,771.2L262.9,769.7L261.6,768.1L260.4,766.6L259.1,765.0L257.9,763.4L256.7,761.8L255.5,760.2L254.3,758.5L253.2,756.9L252.0,755.2L250.8,753.5L249.7,751.8L248.5,750.2L247.4,748.5L246.2,746.8L245.0,745.1L243.9,743.4L242.7,741.7L241.5,740.0L240.3,738.4L239.1,736.7L237.9,735.0L236.7,733.4L235.4,731.8L234.2,730.2L232.9,728.6L231.6,727.0L230.3,725.5L228.9,724.0L227.6,722.5L226.2,721.0L224.8,719.6L223.3,718.2L221.9,716.8L220.4,715.5L218.9,714.2L217.4,712.9L215.8,711.7L214.2,710.5L212.6,709.3L211.0,708.2L209.4,707.1L207.7,706.1L206.0,705.1L204.3,704.2L202.6,703.3L200.8,702.5L199.0,701.7L197.2,701.0L195.3,700.3L193.5,699.7L191.6,699.1L189.7,698.6L187.7,698.2L185.8,697.8L183.8,697.5L181.8,697.2L179.8,697.1L177.7,696.9L175.6,696.9L173.5,696.9"/>
<path d="M354.6,164.5L356.0,324.7"/>
<path d="M571.7,192.5L571.4,194.5L571.1,196.5L570.8,198.5L570.5,200.5L570.2,202.5L569.9,204.5L569.6,206.6L569.3,208.6L569.0,210.6L568.7,212.6L568.4,214.6L568.1,216.6L567.9,218.6L567.6,220.6L567.3,222.6L567.1,224.6L566.8,226.6L566.6,228.7L566.3,230.7L566.1,232.7L565.8,234.7L565.6,236.7L565.4,238.7L565.1,240.7L564.9,242.7L564.7,244.8L564.5,246.8L564.3,248.8L564.0,250.8L563.8,252.8L563.6,254.8L563.4,256.8L563.2,258.9L563.0,260.9L562.8,262.9L562.7,264.9L562.5,266.9L562.3,268.9L562.1,271.0L561.9,273.0L561.8,275.0L561.6,277.0L561.4,279.0L561.3,281.0L561.1,283.1L561.0,285.1L560.8,287.1L560.7,289.1L560.5,291.1L560.4,293.1L560.3,295.2L560.1,297.2L560.0,299.2L559.9,301.2L559.8,303.2L559.7,305.3L559.5,307.3L559.4,309.3L559.3,311.3L559.2,313.3L559.1,315.4L559.0,317.4L558.9,319.4L558.8,321.4L558.7,323.4L558.7,325.5L558.6,327.5L558.5,329.5L558.4,331.5L558.4,333.6L558.3,335.6L558.2,337.6L558.2,339.6L558.1,341.6L558.0,343.7L558.0,345.7L557.9,347.7L557.9,349.7L557.9,351.8L557.8,353.8L557.8,355.8L557.7,357.8L557.7,359.9L557.7,361.9L557.6,363.9L557.6,365.9L557.6,368.0L557.6,370.0L557.5,372.0L557.5,374.0L557.5,376.1L557.5,378.1L557.5,380.1L557.5,382.1L557.5,384.2L557.5,386.2L557.5,388.2L557.5,390.2L557.5,392.3L557.5,394.3L557.5,396.3L557.5,398.3L557.5,400.4L557.5,402.4L557.5,404.4L557.6,406.5L557.6,408.5L557.6,410.5L557.6,412.5L557.6,414.6L557.7,416.6L557.7,418.6L557.7,420.6L557.7,422.7L557.8,424.7L557.8,426.7L557.8,428.8L557.9,430.8L557.9,432.8L558.0,434.8L558.0,436.9L558.0,438.9L558.1,440.9L558.1,442.9L558.2,445.0L558.2,447.0"/>
<path d="M575.5,543.1L577.5,542.9L579.5,542.8L581.5,542.6L583.5,542.4L585.5,542.2L587.5,542.0L589.6,541.8L591.6,541.6L593.6,541.4L595.6,541.2L597.6,541.0L599.6,540.8L601.6,540.5L603.6,540.3L605.7,540.0L607.7,539.8L609.7,539.5L611.7,539.3L613.7,539.0L615.7,538.8L617.8,538.5L619.8,538.2L621.8,538.0L623.8,537.7L625.8,537.4L627.8,537.2L629.9,536.9L631.9,536.6L633.9,536.3L635.9,536.0L638.0,535.8L640.0,535.5L642.0,535.2L644.0,534.9L646.0,534.7L648.1,534.4L650.1,534.1L652.1,533.8L654.1,533.6L656.2,533.3L658.2,533.0L660.2,532.7L662.2,532.5L664.3,532.2L666.3,532.0L668.3,531.7L670.4,531.5L672.4,531.2L674.4,531.0L676.4,530.8L678.5,530.5L680.5,530.3L682.5,530.1L684.5,529.9L686.6,529.7L688.6,529.5L690.6,529.3L692.7,529.1L694.7,528.9L696.7,528.7L698.7,528.6L700.8,528.4L702.8,528.3L704.8,528.1L706.8,528.0L708.9,527.9L710.9,527.8L712.9,527.7L714.9,527.6L716.9,527.6L719.0,527.6L721.0,527.5L723.0,527.5L725.0,527.5L727.0,527.6L729.0,527.6L731.0,527.7L733.0,527.8L735.0,527.9L737.0,528.0L739.0,528.1L741.0,528.3L743.0,528.5L745.0,528.7L747.0,529.0L749.0,529.2L750.9,529.5L752.9,529.9L754.9,530.2L756.9,530.6L758.8,531.0L760.8,531.4L762.7,531.9L764.7,532.4L766.6,532.9L768.6,533.4L770.5,534.0L772.4,534.7L774.4,535.3L776.3,536.0L778.2,536.7L780.1,537.5L782.0,538.3L783.9,539.1L785.8,540.0L787.7,540.9L789.6,541.8"/>
<path d="M560.0,735.6L562.0,736.3L563.9,736.9L565.9,737.6L567.8,738.2L569.8,738.8L571.8,739.3L573.7,739.9L575.7,740.4L577.7,740.9L579.6,741.4L581.6,741.9L583.6,742.3L585.5,742.8L587.5,743.2L589.5,743.6L591.4,744.0L593.4,744.3L595.4,744.7L597.3,745.0L599.3,745.3L601.3,745.6L603.3,745.9L605.3,746.2L607.2,746.5L609.2,746.7L611.2,747.0L613.2,747.2L615.2,747.4L617.1,747.6L619.1,747.8L621.1,748.0L623.1,748.1L625.1,748.3L627.1,748.5L629.1,748.6L631.1,748.7L633.1,748.9L635.1,749.0L637.1,749.1L639.1,749.2L641.1,749.3L643.1,749.4L645.1,749.5L647.1,749.6L649.1,749.7L651.1,749.8L653.1,749.8L655.2,749.9L657.2,750.0L659.2,750.1L661.2,750.1L663.2,750.2L665.3,750.3L667.3,750.3L669.3,750.4L671.3,750.5L673.4,750.5L675.4,750.6L677.5,750.7L679.5,750.7L681.5,750.8L683.6,750.9L685.6,751.0L687.7,751.1L689.7,751.2L691.8,751.3L693.8,751.3L695.9,751.4L697.9,751.5L700.0,751.6L702.0,751.7L704.1,751.8L706.1,751.8L708.2,751.9L710.3,751.9L712.3,752.0L714.3,752.0L716.4,752.0L718.4,752.1L720.5,752.1L722.5,752.0L724.6,752.0L726.6,752.0L728.6,751.9L730.7,751.8L732.7,751.7L734.7,751.6L736.7,751.5L738.7,751.3L740.7,751.2L742.7,751.0L744.7,750.8L746.7,750.5L748.7,750.2L750.7,749.9L752.6,749.6L754.6,749.2L756.5,748.9L758.5,748.4L760.4,748.0L762.3,747.5L764.2,747.0L766.1,746.4L767.9,745.8L769.8,745.1L771.6,744.4L773.3,743.6L775.1,742.8L776.8,742.0L778.5,741.1L780.2,740.1L781.8,739.1L783.4,738.0L784.9,736.9L786.4,735.6L787.9,734.4L789.3,733.0L790.7,731.6L792.0,730.2L793.3,728.6L794.5,727.0L795.7,725.3L796.8,723.5L797.9,721.6L798.9,719.7"/>
<path d="M455.9,807.1L457.2,891.6"/>
<ellipse cx="408.7" cy="648.1" rx="64" ry="60.2"/>
<rect x="415.4" y="648.6" width="47.8" height="15.4" stroke-width="2"/>
<rect x="396.5" y="675.5" width="48.4" height="15.5" stroke-width="2"/>
<path d="M304.9,708.3L403,661.5M309.9,708.3L387,686" stroke-width="1.6"/>
<path d="M923.5,190L923.5,266M892,225.6L957,225.6" stroke-width="2"/>
<path d="M85.2,615.3L202,615.3" stroke-width="3.2" stroke-linecap="butt"/>
</g>
<g fill="#111">
<rect x="611.7" y="280.8" width="2.6" height="2.6"/><rect x="619.1" y="280.8" width="2.6" height="2.6"/><rect x="626.5" y="280.8" width="2.6" height="2.6"/><rect x="633.9" y="280.8" width="2.6" height="2.6"/><rect x="641.3" y="280.8" width="2.6" height="2.6"/><rect x="648.7" y="280.8" width="2.6" height="2.6"/><rect x="656.0" y="280.8" width="2.6" height="2.6"/><rect x="663.4" y="280.8" width="2.6" height="2.6"/><rect x="670.8" y="280.8" width="2.6" height="2.6"/><rect x="678.2" y="280.8" width="2.6" height="2.6"/><rect x="685.6" y="280.8" width="2.6" height="2.6"/><rect x="693.0" y="280.8" width="2.6" height="2.6"/><rect x="700.4" y="280.8" width="2.6" height="2.6"/><rect x="707.8" y="280.8" width="2.6" height="2.6"/><rect x="715.2" y="280.8" width="2.6" height="2.6"/><rect x="722.6" y="280.8" width="2.6" height="2.6"/><rect x="730.0" y="280.8" width="2.6" height="2.6"/><rect x="737.3" y="280.8" width="2.6" height="2.6"/><rect x="744.7" y="280.8" width="2.6" height="2.6"/><rect x="752.1" y="280.8" width="2.6" height="2.6"/><rect x="759.5" y="280.8" width="2.6" height="2.6"/><rect x="766.9" y="280.8" width="2.6" height="2.6"/><rect x="774.3" y="280.8" width="2.6" height="2.6"/><rect x="319.0" y="729.4" width="2.6" height="2.6"/><rect x="326.4" y="729.4" width="2.6" height="2.6"/><rect x="333.7" y="729.4" width="2.6" height="2.6"/><rect x="341.1" y="729.4" width="2.6" height="2.6"/><rect x="348.4" y="729.4" width="2.6" height="2.6"/><rect x="355.8" y="729.4" width="2.6" height="2.6"/><rect x="363.1" y="729.4" width="2.6" height="2.6"/><rect x="370.4" y="729.4" width="2.6" height="2.6"/><rect x="377.8" y="729.4" width="2.6" height="2.6"/><rect x="385.1" y="729.4" width="2.6" height="2.6"/><rect x="392.5" y="729.4" width="2.6" height="2.6"/><rect x="399.8" y="729.4" width="2.6" height="2.6"/><rect x="407.2" y="729.4" width="2.6" height="2.6"/><rect x="414.6" y="729.4" width="2.6" height="2.6"/><rect x="421.9" y="729.4" width="2.6" height="2.6"/><rect x="429.2" y="729.4" width="2.6" height="2.6"/><rect x="436.6" y="729.4" width="2.6" height="2.6"/><rect x="443.9" y="729.4" width="2.6" height="2.6"/><rect x="451.3" y="729.4" width="2.6" height="2.6"/><rect x="458.6" y="729.4" width="2.6" height="2.6"/><rect x="466.0" y="729.4" width="2.6" height="2.6"/><rect x="473.3" y="729.4" width="2.6" height="2.6"/><rect x="480.7" y="729.4" width="2.6" height="2.6"/><rect x="591.7" y="829.4" width="2.6" height="2.6"/><rect x="599.1" y="829.4" width="2.6" height="2.6"/><rect x="606.5" y="829.4" width="2.6" height="2.6"/><rect x="613.9" y="829.4" width="2.6" height="2.6"/><rect x="621.3" y="829.4" width="2.6" height="2.6"/><rect x="628.7" y="829.4" width="2.6" height="2.6"/><rect x="636.0" y="829.4" width="2.6" height="2.6"/><rect x="643.4" y="829.4" width="2.6" height="2.6"/><rect x="650.8" y="829.4" width="2.6" height="2.6"/><rect x="658.2" y="829.4" width="2.6" height="2.6"/><rect x="665.6" y="829.4" width="2.6" height="2.6"/><rect x="673.0" y="829.4" width="2.6" height="2.6"/><rect x="680.4" y="829.4" width="2.6" height="2.6"/><rect x="687.8" y="829.4" width="2.6" height="2.6"/><rect x="695.2" y="829.4" width="2.6" height="2.6"/><rect x="702.6" y="829.4" width="2.6" height="2.6"/><rect x="710.0" y="829.4" width="2.6" height="2.6"/><rect x="717.3" y="829.4" width="2.6" height="2.6"/><rect x="724.7" y="829.4" width="2.6" height="2.6"/><rect x="732.1" y="829.4" width="2.6" height="2.6"/><rect x="739.5" y="829.4" width="2.6" height="2.6"/><rect x="746.9" y="829.4" width="2.6" height="2.6"/><rect x="754.3" y="829.4" width="2.6" height="2.6"/>
<path d="M923.5,181.2L917.5,192.8L929.5,192.8Z"/>
<path d="M923.5,275.4L917.5,263.4L929.5,263.4Z"/>
<path d="M883.3,225.6L894.6,219.6L894.6,231.6Z"/>
<path d="M966.9,225.6L955.4,219.6L955.4,231.6Z"/>
<path d="M212.6,615.3L200.5,608.4L200.5,622Z"/>
<path d="M411.7,658.4L399.3,657.4L404.3,669Z"/>
<path d="M395.3,683.3L383.5,680.3L386.9,692.6Z"/>
<text class="s" x="212.1" y="264.4" font-size="23" textLength="111.4" lengthAdjust="spacingAndGlyphs">Rare Breeds</text>
<text class="s" x="234.6" y="291.7" font-size="23" textLength="66.4" lengthAdjust="spacingAndGlyphs">Section</text>
<text class="s" x="413.7" y="239.5" font-size="23" textLength="74" lengthAdjust="spacingAndGlyphs">Grazing</text>
<text class="s" x="426" y="267.3" font-size="23" textLength="44.6" lengthAdjust="spacingAndGlyphs">Area</text>
<text class="s" x="675" y="321.3" font-size="23" textLength="44" lengthAdjust="spacingAndGlyphs">Area</text>
<text class="s" x="896.6" y="173.9" font-size="23" textLength="54.8" lengthAdjust="spacingAndGlyphs">North</text>
<text class="s" x="831" y="230.6" font-size="23" textLength="43.7" lengthAdjust="spacingAndGlyphs">West</text>
<text class="s" x="976.2" y="230.6" font-size="23" textLength="40.8" lengthAdjust="spacingAndGlyphs">East</text>
<text class="s" x="897.6" y="293.3" font-size="23" textLength="53.8" lengthAdjust="spacingAndGlyphs">South</text>
<text class="s" x="193.5" y="572.8" font-size="23" textLength="91.9" lengthAdjust="spacingAndGlyphs">Reception</text>
<text class="s" x="193.5" y="600" font-size="23" textLength="52" lengthAdjust="spacingAndGlyphs">Block</text>
<text class="s" x="359.7" y="526.8" font-size="23" textLength="122.1" lengthAdjust="spacingAndGlyphs">Experimental</text>
<text class="s" x="366.5" y="554.1" font-size="23" textLength="103.9" lengthAdjust="spacingAndGlyphs">Crops Area</text>
<text class="s" x="376.6" y="632.1" font-size="23" textLength="44.8" lengthAdjust="spacingAndGlyphs">Lake</text>
<text class="s" x="239.6" y="732.3" font-size="23" textLength="33.6" lengthAdjust="spacingAndGlyphs">The</text>
<text class="s" x="643.6" y="649.3" font-size="23" textLength="59.7" lengthAdjust="spacingAndGlyphs">Marsh</text>
<text class="s" x="632.4" y="867.2" font-size="23" textLength="43.5" lengthAdjust="spacingAndGlyphs">Area</text>
<text class="sb" x="39.7" y="574.3" font-size="23" textLength="101.2" lengthAdjust="spacingAndGlyphs">YOU ARE</text>
<text class="sb" x="58.8" y="601.6" font-size="23" textLength="62.8" lengthAdjust="spacingAndGlyphs">HERE</text>
<text class="sb" x="387.4" y="103.4" font-size="30" textLength="231.4" lengthAdjust="spacingAndGlyphs">Agricultural Park</text>
<text class="nb" x="574.5" y="283.2" font-size="28" textLength="27" lengthAdjust="spacingAndGlyphs">12</text>
<text class="nb" x="282" y="732.1" font-size="28" textLength="26.5" lengthAdjust="spacingAndGlyphs">13</text>
<text class="nb" x="554.7" y="832.3" font-size="28" textLength="27" lengthAdjust="spacingAndGlyphs">14</text>
<text x="19.9" y="28.8" font-size="26" style="font-family:'Liberation Sans',sans-serif;font-style:italic;stroke:#111;stroke-width:0.35px" textLength="639" lengthAdjust="spacingAndGlyphs">Write <tspan font-weight="bold">NO MORE THAN TWO WORDS</tspan> for each answer.</text>
<text class="nb" x="1012.5" y="1016.8" font-size="25">35</text>
</g>
</svg>
</body></html>
